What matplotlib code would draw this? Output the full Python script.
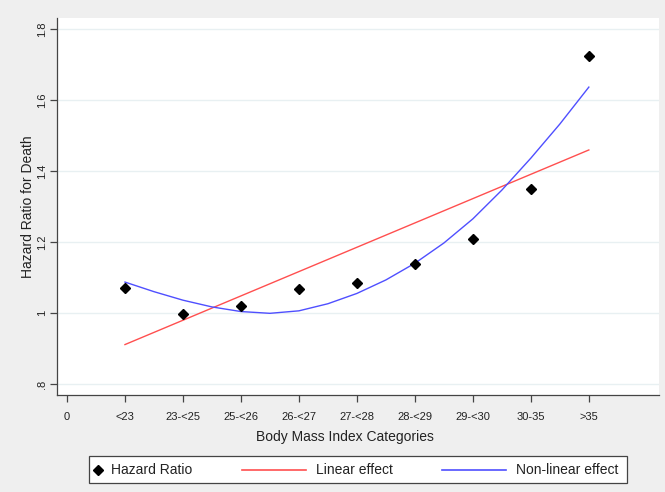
import matplotlib
matplotlib.use("Agg")
import matplotlib.pyplot as plt
from matplotlib.lines import Line2D
from matplotlib.patches import Rectangle

plt.rcParams['font.family'] = ['Liberation Sans', 'DejaVu Sans']

# ---- data ----
categories = ["<23", "23-<25", "25-<26", "26-<27", "27-<28", "28-<29", "29-<30", "30-35", ">35"]
x_tick_labels = ["0"] + categories
hazard_ratio = [1.069, 0.998, 1.019, 1.067, 1.085, 1.138, 1.207, 1.350, 1.723]

linear_x = [1, 9]
linear_y = [0.911, 1.459]

nonlin_x = [1, 1.5, 2, 2.5, 3, 3.5, 4, 4.5, 5, 5.5, 6, 6.5, 7, 7.5, 8, 8.5, 9]
nonlin_y = [1.087, 1.060, 1.036, 1.017, 1.004, 0.999, 1.006, 1.026, 1.055, 1.093,
            1.140, 1.197, 1.265, 1.346, 1.436, 1.532, 1.636]

y_ticks = [0.8, 1.0, 1.2, 1.4, 1.6, 1.8]
y_tick_labels = [".8", "1", "1.2", "1.4", "1.6", "1.8"]

BG = '#efefef'
RED = '#ff4f4f'
BLUE = '#4f4fff'

fig = plt.figure(figsize=(6.65, 4.92), dpi=100, facecolor=BG)
ax = fig.add_axes([57/665, 1-395/492, (659-57)/665, (395-17.5)/492])
ax.set_facecolor('white')

xpos = list(range(1, len(categories) + 1))
ax.plot(linear_x, linear_y, color=RED, lw=1.0, zorder=3)
ax.plot(nonlin_x, nonlin_y, color=BLUE, lw=1.0, zorder=3, solid_joinstyle='round')
ax.plot(xpos, hazard_ratio, linestyle='none', marker='D', markersize=5.5,
        color='black', zorder=4)

ax.set_xlim(-0.172, 10.21)
ax.set_ylim(0.769, 1.832)

ax.set_xticks(range(0, len(x_tick_labels)))
ax.set_xticklabels(x_tick_labels, fontsize=8)
ax.set_yticks(y_ticks)
ax.set_yticklabels(y_tick_labels, fontsize=8, rotation=90, va='center')

for s in ['top', 'right']:
    ax.spines[s].set_visible(False)
for s in ['left', 'bottom']:
    ax.spines[s].set_color('#444444')
    ax.spines[s].set_linewidth(0.9)
ax.tick_params(axis='both', colors='#444444', length=5, width=0.9, labelcolor='#222222')
ax.tick_params(axis='x', pad=7)
ax.tick_params(axis='y', pad=2)

ax.yaxis.grid(True, color='#e8f0f2', lw=1.0)
ax.set_axisbelow(True)

ax.set_xlabel("Body Mass Index Categories", fontsize=10, color='#222222')
ax.set_ylabel("Hazard Ratio for Death", fontsize=10, color='#222222')
ax.xaxis.set_label_coords((345 - 57) / 602, (395 - 437) / 377.5)
ax.yaxis.set_label_coords((28 - 57) / 602, 0.5)
ax.xaxis.label.set_va('center')
ax.yaxis.label.set_va('center')

# ---- legend (manual box) ----
W, H = 665.0, 492.0
def fx(p): return p / W
def fy(p): return 1 - p / H

fig.patches.append(Rectangle((fx(89), fy(483)), fx(627) - fx(89), (483 - 456) / H,
                             transform=fig.transFigure, facecolor='white',
                             edgecolor='#444444', lw=0.9, zorder=5))
ly = fy(469.5)
fig.lines.append(Line2D([fx(98)], [ly], marker='D', markersize=5.5, color='black',
                        linestyle='none', transform=fig.transFigure, zorder=6))
fig.text(fx(111), ly, "Hazard Ratio", fontsize=10, va='center', ha='left', color='#222222', zorder=6)
fig.lines.append(Line2D([fx(242), fx(306)], [ly, ly], color=RED, lw=1.2,
                        transform=fig.transFigure, zorder=6))
fig.text(fx(316), ly, "Linear effect", fontsize=10, va='center', ha='left', color='#222222', zorder=6)
fig.lines.append(Line2D([fx(442), fx(506)], [ly, ly], color=BLUE, lw=1.2,
                        transform=fig.transFigure, zorder=6))
fig.text(fx(516), ly, "Non-linear effect", fontsize=10, va='center', ha='left', color='#222222', zorder=6)

fig.savefig("out.png", dpi=100, facecolor=BG)
